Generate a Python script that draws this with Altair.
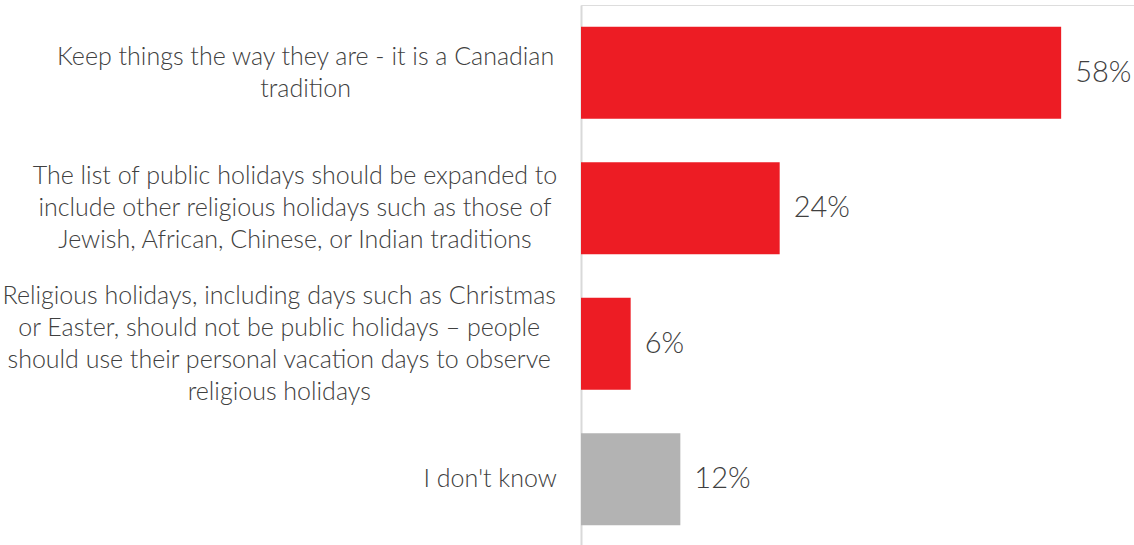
import json
import altair as alt
import pandas as pd

categories = [
    "Keep things the way they are - it is a Canadian\ntradition",
    "The list of public holidays should be expanded to\ninclude other religious holidays such as those of\nJewish, African, Chinese, or Indian traditions",
    "Religious holidays, including days such as Christmas\nor Easter, should not be public holidays \u2013 people\nshould use their personal vacation days to observe\nreligious holidays",
    "I don't know",
]
values = [58, 24, 6, 12]
value_labels = ["58%", "24%", "6%", "12%"]
bar_colors = ["#ED1C24", "#ED1C24", "#ED1C24", "#B3B3B3"]

df = pd.DataFrame({"category": categories, "value": values, "label": value_labels})

FONT = "Lato"
CHAR_W = 10.55
GAP = 28
LINE_H = 32
pads = [round(GAP + 0.5 * CHAR_W * max(len(l) for l in c.split("\n")), 1) for c in categories]
offs = [-(len(c.split("\n")) - 1) * LINE_H / 2 for c in categories]
cats_json = json.dumps(categories)
pad_expr = "%s[indexof(%s, datum.value)]" % (json.dumps(pads), cats_json)
off_expr = "%s[indexof(%s, datum.value)]" % (json.dumps(offs), cats_json)

y_enc = alt.Y(
    "category:N",
    sort=categories,
    scale=alt.Scale(paddingInner=0.32),
    axis=alt.Axis(
        title=None,
        ticks=False,
        domain=True,
        domainColor="#D9D9D9",
        domainWidth=2,
        labelExpr="split(datum.label, '\\n')",
        labelAlign="center",
        labelBaseline="middle",
        labelPadding={"expr": pad_expr},
        labelOffset={"expr": off_expr},
        labelLineHeight=LINE_H,
        labelLimit=1000,
        labelFont=FONT,
        labelFontWeight=300,
        labelFontSize=25,
        labelColor="#404040",
    ),
)

x_enc = alt.X("value:Q", scale=alt.Scale(domain=[0, 66.8], nice=False), axis=None)

bars = alt.Chart(df).mark_bar().encode(
    y=y_enc,
    x=x_enc,
    color=alt.Color("category:N", scale=alt.Scale(domain=categories, range=bar_colors), legend=None),
)

text = alt.Chart(df).mark_text(
    align="left", baseline="middle", dx=14, font=FONT, fontWeight=300, fontSize=29, color="#404040"
).encode(
    y=alt.Y("category:N", sort=categories),
    x=alt.X("value:Q"),
    text="label:N",
)

chart = (
    alt.layer(bars, text)
    .properties(
        width=553,
        height=542,
        autosize=alt.AutoSizeParams(type="none"),
        padding={"left": 581, "top": 5, "right": 0, "bottom": 0},
    )
    .configure_view(stroke=None)
    .configure(background="white")
)

chart.save("out.html", embed_options={"renderer": "svg", "actions": False})
